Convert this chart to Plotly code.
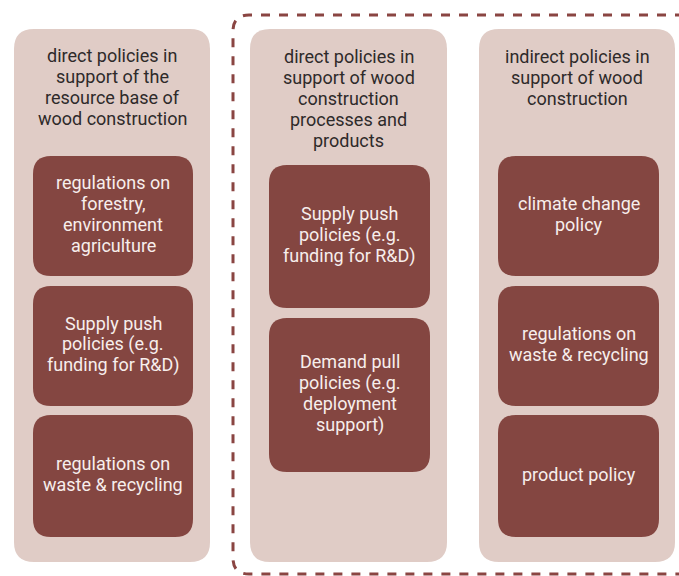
import plotly.graph_objects as go

# Diagram content
column_titles = [
    ["direct policies in", "support of the", "resource base of", "wood construction"],
    ["direct policies in", "support of wood", "construction", "processes and", "products"],
    ["indirect policies in", "support of wood", "construction"],
]
column_items = [
    [["regulations on", "forestry,", "environment", "agriculture"],
     ["Supply push", "policies (e.g.", "funding for R&D)"],
     ["regulations on", "waste & recycling"]],
    [["Supply push", "policies (e.g.", "funding for R&D)"],
     ["Demand pull", "policies (e.g.", "deployment", "support)"]],
    [["climate change", "policy"],
     ["regulations on", "waste & recycling"],
     ["product policy"]],
]

W, H = 679, 576
OUTER_FILL = "#E0CCC6"
INNER_FILL = "#844641"
DASH_COLOR = "#8A4542"
FONT = "Roboto"
FS = 18
LH = 21
TEXT_DY = -2

# layout geometry (pixels in the screenshot)
outer_x = [(14, 210), (250, 447), (479, 675)]
outer_y = (29, 562)
inner_x = [(33, 193), (269, 430), (498, 659)]
inner_y = [
    [(156, 276), (286, 406), (415, 537)],
    [(165, 308), (318, 472)],
    [(156, 276), (286, 406), (415, 537)],
]
title_cy = [89, 100, 79]


def rrect(x0, y0, x1, y1, r):
    return (f"M {x0+r},{y0} L {x1-r},{y0} Q {x1},{y0} {x1},{y0+r} "
            f"L {x1},{y1-r} Q {x1},{y1} {x1-r},{y1} L {x0+r},{y1} "
            f"Q {x0},{y1} {x0},{y1-r} L {x0},{y0+r} Q {x0},{y0} {x0+r},{y0} Z")


shapes = []
annotations = []


def add_lines(lines, cx, cy, color):
    n = len(lines)
    for i, t in enumerate(lines):
        y = cy + TEXT_DY + (i - (n - 1) / 2) * LH
        annotations.append(dict(x=cx, y=y, xref="x", yref="y", text=t,
                                showarrow=False,
                                font=dict(family=FONT, size=FS, color=color),
                                xanchor="center", yanchor="middle"))


# dashed grouping border (extends beyond right and bottom edges)
r = 16
dx0, dy0, dx1, dy1 = 233, 15, 720, 574
dash_path = (f"M {dx1},{dy0} L {dx0+r},{dy0} Q {dx0},{dy0} {dx0},{dy0+r} "
             f"L {dx0},{dy1-r} Q {dx0},{dy1} {dx0+r},{dy1} L {dx1},{dy1}")
shapes.append(dict(type="path", path=dash_path, xref="x", yref="y",
                   line=dict(color=DASH_COLOR, width=3, dash="dash"),
                   fillcolor="rgba(0,0,0,0)", layer="above"))

for ci in range(3):
    ox0, ox1 = outer_x[ci]
    shapes.append(dict(type="path", path=rrect(ox0, outer_y[0], ox1, outer_y[1], 20),
                       xref="x", yref="y", fillcolor=OUTER_FILL,
                       line=dict(width=0), layer="below"))
    add_lines(column_titles[ci], (ox0 + ox1) / 2, title_cy[ci], "#2E2A2A")
    ix0, ix1 = inner_x[ci]
    for k, lines in enumerate(column_items[ci]):
        iy0, iy1 = inner_y[ci][k]
        shapes.append(dict(type="path", path=rrect(ix0, iy0, ix1, iy1, 18),
                           xref="x", yref="y", fillcolor=INNER_FILL,
                           line=dict(width=0), layer="below"))
        add_lines(lines, (ix0 + ix1) / 2, (iy0 + iy1) / 2, "#F7EEEC")

fig = go.Figure()
fig.add_trace(go.Scatter(x=[0, W], y=[0, H], mode="markers",
                         marker=dict(opacity=0), hoverinfo="skip", showlegend=False))
fig.update_layout(
    width=W, height=H,
    margin=dict(l=0, r=0, t=0, b=0),
    paper_bgcolor="white", plot_bgcolor="white",
    xaxis=dict(range=[0, W], visible=False, fixedrange=True),
    yaxis=dict(range=[H, 0], visible=False, fixedrange=True),
    shapes=shapes, annotations=annotations,
    showlegend=False,
)
fig.write_html("out.html", config={"displayModeBar": False},
               post_script="document.body.style.margin='0';"
                           "document.body.style.overflow='hidden';")
